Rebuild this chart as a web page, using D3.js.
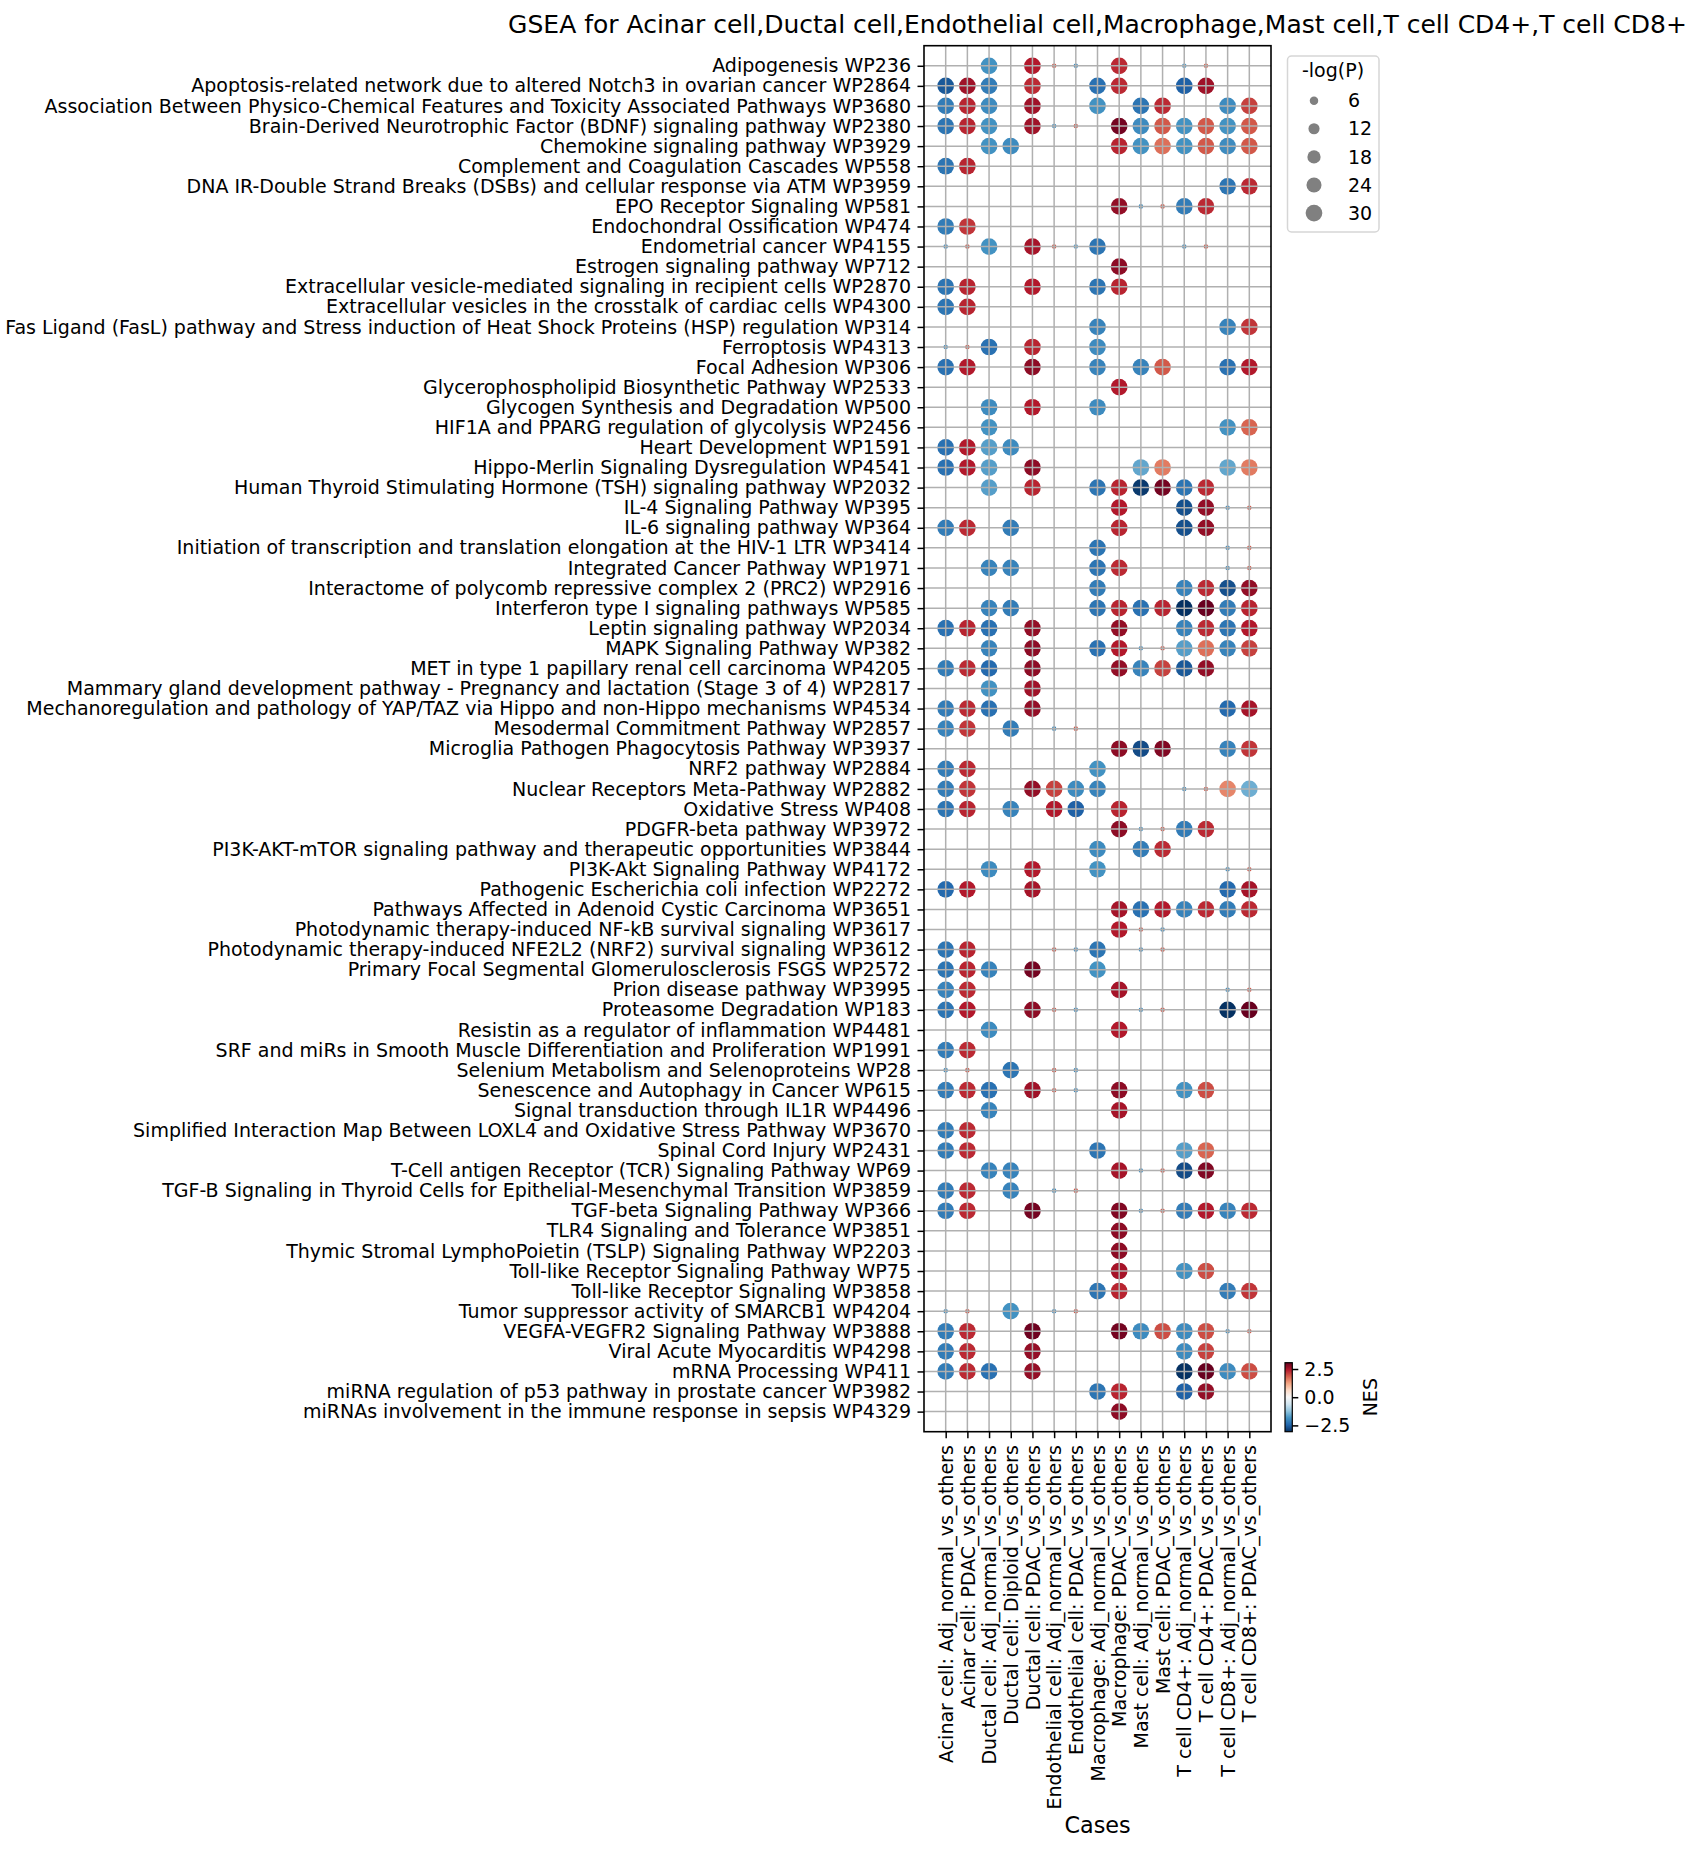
<!DOCTYPE html>
<html>
<head>
<meta charset="utf-8">
<script src="https://cdn.jsdelivr.net/npm/d3@7"></script>
<style>
  body { margin: 0; background: #fff; }
  text { font-family: "DejaVu Sans", sans-serif; fill: #000; }
</style>
</head>
<body>
<script>
var _ = null;

var cases = [
    "Acinar cell: Adj_normal_vs_others", "Acinar cell: PDAC_vs_others",
    "Ductal cell: Adj_normal_vs_others", "Ductal cell: Diploid_vs_others",
    "Ductal cell: PDAC_vs_others", "Endothelial cell: Adj_normal_vs_others",
    "Endothelial cell: PDAC_vs_others", "Macrophage: Adj_normal_vs_others",
    "Macrophage: PDAC_vs_others", "Mast cell: Adj_normal_vs_others",
    "Mast cell: PDAC_vs_others", "T cell CD4+: Adj_normal_vs_others",
    "T cell CD4+: PDAC_vs_others", "T cell CD8+: Adj_normal_vs_others",
    "T cell CD8+: PDAC_vs_others"
];

var pathways = [
    "Adipogenesis WP236",
    "Apoptosis-related network due to altered Notch3 in ovarian cancer WP2864",
    "Association Between Physico-Chemical Features and Toxicity Associated Pathways WP3680",
    "Brain-Derived Neurotrophic Factor (BDNF) signaling pathway WP2380",
    "Chemokine signaling pathway WP3929",
    "Complement and Coagulation Cascades WP558",
    "DNA IR-Double Strand Breaks (DSBs) and cellular response via ATM WP3959",
    "EPO Receptor Signaling WP581",
    "Endochondral Ossification WP474",
    "Endometrial cancer WP4155",
    "Estrogen signaling pathway WP712",
    "Extracellular vesicle-mediated signaling in recipient cells WP2870",
    "Extracellular vesicles in the crosstalk of cardiac cells WP4300",
    "Fas Ligand (FasL) pathway and Stress induction of Heat Shock Proteins (HSP) regulation WP314",
    "Ferroptosis WP4313",
    "Focal Adhesion WP306",
    "Glycerophospholipid Biosynthetic Pathway WP2533",
    "Glycogen Synthesis and Degradation WP500",
    "HIF1A and PPARG regulation of glycolysis WP2456",
    "Heart Development WP1591",
    "Hippo-Merlin Signaling Dysregulation WP4541",
    "Human Thyroid Stimulating Hormone (TSH) signaling pathway WP2032",
    "IL-4 Signaling Pathway WP395",
    "IL-6 signaling pathway WP364",
    "Initiation of transcription and translation elongation at the HIV-1 LTR WP3414",
    "Integrated Cancer Pathway WP1971",
    "Interactome of polycomb repressive complex 2 (PRC2)  WP2916",
    "Interferon type I signaling pathways WP585",
    "Leptin signaling pathway WP2034",
    "MAPK Signaling Pathway WP382",
    "MET in type 1 papillary renal cell carcinoma WP4205",
    "Mammary gland development pathway - Pregnancy and lactation (Stage 3 of 4) WP2817",
    "Mechanoregulation and pathology of YAP/TAZ via Hippo and non-Hippo mechanisms WP4534",
    "Mesodermal Commitment Pathway WP2857",
    "Microglia Pathogen Phagocytosis Pathway WP3937",
    "NRF2 pathway WP2884",
    "Nuclear Receptors Meta-Pathway WP2882",
    "Oxidative Stress WP408",
    "PDGFR-beta pathway WP3972",
    "PI3K-AKT-mTOR signaling pathway and therapeutic opportunities WP3844",
    "PI3K-Akt Signaling Pathway WP4172",
    "Pathogenic Escherichia coli infection WP2272",
    "Pathways Affected in Adenoid Cystic Carcinoma WP3651",
    "Photodynamic therapy-induced NF-kB survival signaling WP3617",
    "Photodynamic therapy-induced NFE2L2 (NRF2) survival signaling WP3612",
    "Primary Focal Segmental Glomerulosclerosis FSGS WP2572",
    "Prion disease pathway WP3995",
    "Proteasome Degradation WP183",
    "Resistin as a regulator of inflammation WP4481",
    "SRF and miRs in Smooth Muscle Differentiation and Proliferation WP1991",
    "Selenium Metabolism and Selenoproteins WP28",
    "Senescence and Autophagy in Cancer WP615",
    "Signal transduction through IL1R WP4496",
    "Simplified Interaction Map Between LOXL4 and Oxidative Stress Pathway WP3670",
    "Spinal Cord Injury WP2431",
    "T-Cell antigen Receptor (TCR)  Signaling Pathway WP69",
    "TGF-B Signaling in Thyroid Cells for Epithelial-Mesenchymal Transition WP3859",
    "TGF-beta Signaling Pathway WP366",
    "TLR4 Signaling and Tolerance WP3851",
    "Thymic Stromal LymphoPoietin (TSLP) Signaling Pathway WP2203",
    "Toll-like Receptor Signaling Pathway WP75",
    "Toll-like Receptor Signaling WP3858",
    "Tumor suppressor activity of SMARCB1 WP4204",
    "VEGFA-VEGFR2 Signaling Pathway WP3888",
    "Viral Acute Myocarditis WP4298",
    "mRNA Processing WP411",
    "miRNA regulation of p53 pathway in prostate cancer WP3982",
    "miRNAs involvement in the immune response in sepsis WP4329"
];

// NES, one row per pathway, one column per case
var nes = [
    [_, _, -1.85, _, 2.45, 1.9, -1.9, _, 2.3, _, _, -1.7, 1.8, _, _],
    [-2.6, 2.6, -2.15, _, 2.3, _, _, -2.3, 2.3, _, _, -2.5, 2.6, _, _],
    [-2.15, 2.35, -1.95, _, 2.6, _, _, -1.85, _, -2.25, 2.3, _, _, -1.95, 2.1],
    [-2.25, 2.35, -1.85, _, 2.6, -1.9, 1.9, _, 2.95, -1.95, 1.9, -1.85, 1.9, -1.85, 1.9],
    [_, _, -1.85, -1.95, _, _, _, _, 2.35, -1.85, 1.7, -1.85, 1.9, -1.95, 1.9],
    [-2.25, 2.35, _, _, _, _, _, _, _, _, _, _, _, _, _],
    [_, _, _, _, _, _, _, _, _, _, _, _, _, -2.25, 2.3],
    [_, _, _, _, _, _, _, _, 2.7, -1.9, 1.9, -2.15, 2.3, _, _],
    [-2.15, 2.2, _, _, _, _, _, _, _, _, _, _, _, _, _],
    [-1.9, 1.9, -1.85, _, 2.55, 1.9, -1.7, -2.25, _, _, _, -1.9, 1.9, _, _],
    [_, _, _, _, _, _, _, _, 2.75, _, _, _, _, _, _],
    [-2.25, 2.35, _, _, 2.45, _, _, -2.25, 2.35, _, _, _, _, _, _],
    [-2.25, 2.35, _, _, _, _, _, _, _, _, _, _, _, _, _],
    [_, _, _, _, _, _, _, -2.05, _, _, _, _, _, -2.05, 2.2],
    [-1.9, 1.9, -2.3, _, 2.35, _, _, -1.95, _, _, _, _, _, _, _],
    [-2.3, 2.45, _, _, 2.75, _, _, -2.05, _, -2.05, 1.9, _, _, -2.3, 2.45],
    [_, _, _, _, _, _, _, _, 2.45, _, _, _, _, _, _],
    [_, _, -1.95, _, 2.45, _, _, -1.95, _, _, _, _, _, _, _],
    [_, _, -1.85, _, _, _, _, _, _, _, _, _, _, -1.85, 1.8],
    [-2.3, 2.45, -1.7, -1.95, _, _, _, _, _, _, _, _, _, _, _],
    [-2.3, 2.45, -1.7, _, 2.75, _, _, _, _, -1.6, 1.6, _, _, -1.6, 1.6],
    [_, _, -1.7, _, 2.35, _, _, -2.25, 2.35, -2.95, 2.95, -2.25, 2.3, _, _],
    [_, _, _, _, _, _, _, _, 2.45, _, _, -2.7, 2.7, -1.9, 1.9],
    [-2.15, 2.3, _, -2.15, _, _, _, _, 2.35, _, _, -2.7, 2.7, _, _],
    [_, _, _, _, _, _, _, -2.25, _, _, _, _, _, -1.9, 1.9],
    [_, _, -2.05, -2.05, _, _, _, -2.25, 2.3, _, _, _, _, -1.9, 1.9],
    [_, _, _, _, _, _, _, -2.15, _, _, _, -2.05, 2.3, -2.7, 2.7],
    [_, _, -2.05, -2.15, _, _, _, -2.25, 2.35, -2.3, 2.35, -3.05, 3.05, -2.15, 2.35],
    [-2.3, 2.35, -2.3, _, 2.7, _, _, _, 2.7, _, _, -2.05, 2.3, -2.25, 2.45],
    [_, _, -2.05, _, 2.75, _, _, -2.3, 2.45, -1.9, 1.9, -1.7, 1.7, -2.05, 2.1],
    [-2.15, 2.3, -2.4, _, 2.75, _, _, _, 2.7, -2.05, 2.1, -2.6, 2.7, _, _],
    [_, _, -1.85, _, 2.6, _, _, _, _, _, _, _, _, _, _],
    [-2.15, 2.3, -2.3, _, 2.7, _, _, _, _, _, _, _, _, -2.4, 2.55],
    [-2.05, 2.2, _, -2.15, _, -1.9, 1.9, _, _, _, _, _, _, _, _],
    [_, _, _, _, _, _, _, _, 2.75, -2.75, 2.85, _, _, -2.05, 2.2],
    [-2.15, 2.3, _, _, _, _, _, -1.85, _, _, _, _, _, _, _],
    [-2.15, 2.2, _, _, 2.7, 2.1, -1.95, -2.05, _, _, _, -1.9, 1.9, 1.5, -1.5],
    [-2.25, 2.35, _, -2.05, _, 2.45, -2.5, _, 2.35, _, _, _, _, _, _],
    [_, _, _, _, _, _, _, _, 2.75, -1.9, 1.9, -2.15, 2.3, _, _],
    [_, _, _, _, _, _, _, -1.95, _, -2.15, 2.3, _, _, _, _],
    [_, _, -1.95, _, 2.45, _, _, -1.85, _, _, _, _, _, -1.9, 1.9],
    [-2.4, 2.45, _, _, 2.55, _, _, _, _, _, _, _, _, -2.4, 2.55],
    [_, _, _, _, _, _, _, _, 2.55, -2.3, 2.45, -2.05, 2.3, -2.15, 2.3],
    [_, _, _, _, _, _, _, _, 2.45, 1.9, -1.9, _, _, _, _],
    [-2.25, 2.35, _, _, _, 1.9, -1.9, -2.25, _, -1.9, 1.9, _, _, _, _],
    [-2.25, 2.35, -2.05, _, 2.95, _, _, -1.85, _, _, _, _, _, _, _],
    [-2.05, 2.3, _, _, _, _, _, _, 2.55, _, _, _, _, -1.9, 1.9],
    [-2.25, 2.45, _, _, 2.75, 1.9, -1.9, _, _, -1.9, 1.9, _, _, -3.05, 3.05],
    [_, _, -1.95, _, _, _, _, _, 2.45, _, _, _, _, _, _],
    [-2.15, 2.3, _, _, _, _, _, _, _, _, _, _, _, _, _],
    [-1.9, 1.9, _, -2.25, _, 1.9, -1.9, _, _, _, _, _, _, _, _],
    [-2.15, 2.3, -2.3, _, 2.6, 1.9, -1.9, _, 2.75, _, _, -1.85, 2.0, _, _],
    [_, _, -2.05, _, _, _, _, _, 2.55, _, _, _, _, _, _],
    [-2.15, 2.3, _, _, _, _, _, _, _, _, _, _, _, _, _],
    [-2.15, 2.3, _, _, _, _, _, -2.25, _, _, _, -1.7, 1.8, _, _],
    [_, _, -2.05, -2.05, _, _, _, _, 2.55, -1.9, 1.9, -2.75, 2.85, _, _],
    [-2.15, 2.3, _, -2.05, _, -1.9, 1.9, _, _, _, _, _, _, _, _],
    [-2.15, 2.3, _, _, 2.95, _, _, _, 2.85, -1.9, 1.9, -2.15, 2.45, -2.05, 2.3],
    [_, _, _, _, _, _, _, _, 2.75, _, _, _, _, _, _],
    [_, _, _, _, _, _, _, _, 2.75, _, _, _, _, _, _],
    [_, _, _, _, _, _, _, _, 2.55, _, _, -1.85, 2.0, _, _],
    [_, _, _, _, _, _, _, -2.25, 2.35, _, _, _, _, -2.15, 2.2],
    [-1.9, 1.9, _, -1.85, _, -1.9, 1.9, _, _, _, _, _, _, _, _],
    [-2.15, 2.3, _, _, 3.0, _, _, _, 2.95, -1.95, 2.0, -1.95, 2.0, -1.9, 1.9],
    [-2.15, 2.3, _, _, 2.7, _, _, _, _, _, _, -1.95, 2.1, _, _],
    [-2.15, 2.3, -2.3, _, 2.7, _, _, _, _, _, _, -3.05, 3.05, -1.95, 2.0],
    [_, _, _, _, _, _, _, -2.25, 2.35, _, _, -2.5, 2.7, _, _],
    [_, _, _, _, _, _, _, _, 2.75, _, _, _, _, _, _]
];

// -log(P), same layout
var logP = [
    [_, _, 30, _, 30, 0.1, 0.1, _, 30, _, _, 0.1, 0.1, _, _],
    [30, 30, 30, _, 30, _, _, 30, 30, _, _, 30, 30, _, _],
    [30, 30, 30, _, 30, _, _, 30, _, 30, 30, _, _, 30, 30],
    [30, 30, 30, _, 30, 0.1, 0.1, _, 30, 30, 30, 30, 30, 30, 30],
    [_, _, 30, 30, _, _, _, _, 30, 30, 30, 30, 30, 30, 30],
    [30, 30, _, _, _, _, _, _, _, _, _, _, _, _, _],
    [_, _, _, _, _, _, _, _, _, _, _, _, _, 30, 30],
    [_, _, _, _, _, _, _, _, 30, 0.1, 0.1, 30, 30, _, _],
    [30, 30, _, _, _, _, _, _, _, _, _, _, _, _, _],
    [0.1, 0.1, 30, _, 30, 0.1, 0.1, 30, _, _, _, 0.1, 0.1, _, _],
    [_, _, _, _, _, _, _, _, 30, _, _, _, _, _, _],
    [30, 30, _, _, 30, _, _, 30, 30, _, _, _, _, _, _],
    [30, 30, _, _, _, _, _, _, _, _, _, _, _, _, _],
    [_, _, _, _, _, _, _, 30, _, _, _, _, _, 30, 30],
    [0.1, 0.1, 30, _, 30, _, _, 30, _, _, _, _, _, _, _],
    [30, 30, _, _, 30, _, _, 30, _, 30, 30, _, _, 30, 30],
    [_, _, _, _, _, _, _, _, 30, _, _, _, _, _, _],
    [_, _, 30, _, 30, _, _, 30, _, _, _, _, _, _, _],
    [_, _, 30, _, _, _, _, _, _, _, _, _, _, 30, 30],
    [30, 30, 30, 30, _, _, _, _, _, _, _, _, _, _, _],
    [30, 30, 30, _, 30, _, _, _, _, 30, 30, _, _, 30, 30],
    [_, _, 30, _, 30, _, _, 30, 30, 30, 30, 30, 30, _, _],
    [_, _, _, _, _, _, _, _, 30, _, _, 30, 30, 0.1, 0.1],
    [30, 30, _, 30, _, _, _, _, 30, _, _, 30, 30, _, _],
    [_, _, _, _, _, _, _, 30, _, _, _, _, _, 0.1, 0.1],
    [_, _, 30, 30, _, _, _, 30, 30, _, _, _, _, 0.1, 0.1],
    [_, _, _, _, _, _, _, 30, _, _, _, 30, 30, 30, 30],
    [_, _, 30, 30, _, _, _, 30, 30, 30, 30, 30, 30, 30, 30],
    [30, 30, 30, _, 30, _, _, _, 30, _, _, 30, 30, 30, 30],
    [_, _, 30, _, 30, _, _, 30, 30, 0.1, 0.1, 30, 30, 30, 30],
    [30, 30, 30, _, 30, _, _, _, 30, 30, 30, 30, 30, _, _],
    [_, _, 30, _, 30, _, _, _, _, _, _, _, _, _, _],
    [30, 30, 30, _, 30, _, _, _, _, _, _, _, _, 30, 30],
    [30, 30, _, 30, _, 0.1, 0.1, _, _, _, _, _, _, _, _],
    [_, _, _, _, _, _, _, _, 30, 30, 30, _, _, 30, 30],
    [30, 30, _, _, _, _, _, 30, _, _, _, _, _, _, _],
    [30, 30, _, _, 30, 30, 30, 30, _, _, _, 0.1, 0.1, 30, 30],
    [30, 30, _, 30, _, 30, 30, _, 30, _, _, _, _, _, _],
    [_, _, _, _, _, _, _, _, 30, 0.1, 0.1, 30, 30, _, _],
    [_, _, _, _, _, _, _, 30, _, 30, 30, _, _, _, _],
    [_, _, 30, _, 30, _, _, 30, _, _, _, _, _, 0.1, 0.1],
    [30, 30, _, _, 30, _, _, _, _, _, _, _, _, 30, 30],
    [_, _, _, _, _, _, _, _, 30, 30, 30, 30, 30, 30, 30],
    [_, _, _, _, _, _, _, _, 30, 0.1, 0.1, _, _, _, _],
    [30, 30, _, _, _, 0.1, 0.1, 30, _, 0.1, 0.1, _, _, _, _],
    [30, 30, 30, _, 30, _, _, 30, _, _, _, _, _, _, _],
    [30, 30, _, _, _, _, _, _, 30, _, _, _, _, 0.1, 0.1],
    [30, 30, _, _, 30, 0.1, 0.1, _, _, 0.1, 0.1, _, _, 30, 30],
    [_, _, 30, _, _, _, _, _, 30, _, _, _, _, _, _],
    [30, 30, _, _, _, _, _, _, _, _, _, _, _, _, _],
    [0.1, 0.1, _, 30, _, 0.1, 0.1, _, _, _, _, _, _, _, _],
    [30, 30, 30, _, 30, 0.1, 0.1, _, 30, _, _, 30, 30, _, _],
    [_, _, 30, _, _, _, _, _, 30, _, _, _, _, _, _],
    [30, 30, _, _, _, _, _, _, _, _, _, _, _, _, _],
    [30, 30, _, _, _, _, _, 30, _, _, _, 30, 30, _, _],
    [_, _, 30, 30, _, _, _, _, 30, 0.1, 0.1, 30, 30, _, _],
    [30, 30, _, 30, _, 0.1, 0.1, _, _, _, _, _, _, _, _],
    [30, 30, _, _, 30, _, _, _, 30, 0.1, 0.1, 30, 30, 30, 30],
    [_, _, _, _, _, _, _, _, 30, _, _, _, _, _, _],
    [_, _, _, _, _, _, _, _, 30, _, _, _, _, _, _],
    [_, _, _, _, _, _, _, _, 30, _, _, 30, 30, _, _],
    [_, _, _, _, _, _, _, 30, 30, _, _, _, _, 30, 30],
    [0.1, 0.1, _, 30, _, 0.1, 0.1, _, _, _, _, _, _, _, _],
    [30, 30, _, _, 30, _, _, _, 30, 30, 30, 30, 30, 0.1, 0.1],
    [30, 30, _, _, 30, _, _, _, _, _, _, 30, 30, _, _],
    [30, 30, 30, _, 30, _, _, _, _, _, _, 30, 30, 30, 30],
    [_, _, _, _, _, _, _, 30, 30, _, _, 30, 30, _, _],
    [_, _, _, _, _, _, _, _, 30, _, _, _, _, _, _]
];

var sizeLegend = [6, 12, 18, 24, 30];
var nesTicks = [2.5, 0.0, -2.5];
var nesLimit = 3.06;

// matplotlib RdBu, reversed
var rdbu = ["#67001f", "#b2182b", "#d6604d", "#f4a582", "#fddbc7", "#f7f7f7",
            "#d1e5f0", "#92c5de", "#4393c3", "#2166ac", "#053061"].reverse();

var width = 1703, height = 1853;
var plot = { left: 924, right: 1271, top: 45.7, bottom: 1431.7 };
var tickFont = "19px";

var x = d3.scaleLinear().domain([-1, cases.length]).range([plot.left, plot.right]);
var y = d3.scaleLinear().domain([-1, pathways.length]).range([plot.top, plot.bottom]);
// marker area grows linearly with -log(P)
var area = d3.scaleLinear().domain([0, 30]).range([5, 69.7]);
var r = function (v) { return Math.sqrt(area(v)); };
var color = d3.scaleLinear()
    .domain(d3.range(rdbu.length).map(function (i) { return -nesLimit + 2 * nesLimit * i / (rdbu.length - 1); }))
    .range(rdbu)
    .interpolate(d3.interpolateRgb)
    .clamp(true);

var points = [];
nes.forEach(function (row, i) {
    row.forEach(function (v, j) {
        if (v !== null) points.push({ row: i, col: j, nes: v, logp: logP[i][j] });
    });
});

var svg = d3.select("body").append("svg")
    .attr("width", width)
    .attr("height", height);

// dots
svg.append("g")
    .selectAll("circle")
    .data(points)
    .enter().append("circle")
    .attr("cx", function (d) { return x(d.col); })
    .attr("cy", function (d) { return y(d.row); })
    .attr("r", function (d) { return r(d.logp); })
    .style("fill", function (d) { return color(d.nes); });

// grid drawn on top of the dots
var grid = svg.append("g")
    .attr("stroke", "#b0b0b0")
    .attr("stroke-width", 1.5);
grid.selectAll(".vgrid")
    .data(cases)
    .enter().append("line")
    .attr("x1", function (d, i) { return x(i); })
    .attr("x2", function (d, i) { return x(i); })
    .attr("y1", plot.top)
    .attr("y2", plot.bottom);
grid.selectAll(".hgrid")
    .data(pathways)
    .enter().append("line")
    .attr("y1", function (d, i) { return y(i); })
    .attr("y2", function (d, i) { return y(i); })
    .attr("x1", plot.left)
    .attr("x2", plot.right);

// axes
var xAxis = d3.axisBottom(x)
    .tickValues(d3.range(cases.length))
    .tickFormat(function (i) { return cases[i]; })
    .tickSize(6.5)
    .tickPadding(6.5);
var yAxis = d3.axisLeft(y)
    .tickValues(d3.range(pathways.length))
    .tickFormat(function (i) { return pathways[i]; })
    .tickSize(6.5)
    .tickPadding(6.5);

var gx = svg.append("g")
    .attr("transform", "translate(0," + plot.bottom + ")")
    .call(xAxis);
gx.selectAll("text")
    .attr("transform", "rotate(-90)")
    .attr("x", -13.5)
    .attr("y", 0)
    .attr("dy", "0.35em")
    .style("text-anchor", "end");

var gy = svg.append("g")
    .attr("transform", "translate(" + plot.left + ",0)")
    .call(yAxis);

[gx, gy].forEach(function (g) {
    g.select(".domain").remove();
    g.selectAll("line").attr("stroke", "#000").attr("stroke-width", 1.5);
    g.selectAll("text").style("font-family", "DejaVu Sans").style("font-size", tickFont).attr("fill", "#000");
});

svg.append("rect")
    .attr("x", plot.left)
    .attr("y", plot.top)
    .attr("width", plot.right - plot.left)
    .attr("height", plot.bottom - plot.top)
    .attr("fill", "none")
    .attr("stroke", "#000")
    .attr("stroke-width", 1.6);

// title and x label
svg.append("text")
    .attr("x", (plot.left + plot.right) / 2)
    .attr("y", 33)
    .style("text-anchor", "middle")
    .style("font-size", "25px")
    .text("GSEA for Acinar cell,Ductal cell,Endothelial cell,Macrophage,Mast cell,T cell CD4+,T cell CD8+");

svg.append("text")
    .attr("x", (plot.left + plot.right) / 2)
    .attr("y", 1833)
    .style("text-anchor", "middle")
    .style("font-size", "22.3px")
    .text("Cases");

// size legend
var legend = svg.append("g");
legend.append("rect")
    .attr("x", 1287.5)
    .attr("y", 56)
    .attr("width", 91.5)
    .attr("height", 176)
    .attr("rx", 4)
    .attr("fill", "#fff")
    .attr("stroke", "#d6d6d6")
    .attr("stroke-width", 1.5);
legend.append("text")
    .attr("x", 1333)
    .attr("y", 77)
    .style("text-anchor", "middle")
    .style("font-size", tickFont)
    .text("-log(P)");
var items = legend.selectAll(".item")
    .data(sizeLegend)
    .enter().append("g")
    .attr("transform", function (d, i) { return "translate(0," + (100.7 + i * 28.1) + ")"; });
items.append("circle")
    .attr("cx", 1314)
    .attr("cy", 0)
    .attr("r", function (d) { return r(d); })
    .attr("fill", "#808080");
items.append("text")
    .attr("x", 1348)
    .attr("dy", "0.35em")
    .style("font-size", tickFont)
    .text(function (d) { return d; });

// colorbar
var cb = { x: 1285, w: 7.3, top: 1362.7, bottom: 1431.7 };
var grad = svg.append("defs").append("linearGradient")
    .attr("id", "nesgrad")
    .attr("x1", 0).attr("y1", 1).attr("x2", 0).attr("y2", 0);
rdbu.forEach(function (c, i) {
    grad.append("stop")
        .attr("offset", i / (rdbu.length - 1))
        .attr("stop-color", c);
});
svg.append("rect")
    .attr("x", cb.x)
    .attr("y", cb.top)
    .attr("width", cb.w)
    .attr("height", cb.bottom - cb.top)
    .attr("fill", "url(#nesgrad)")
    .attr("stroke", "#000")
    .attr("stroke-width", 1.2);

var cy = d3.scaleLinear().domain([-nesLimit, nesLimit]).range([cb.bottom, cb.top]);
var cAxis = d3.axisRight(cy)
    .tickValues(nesTicks)
    .tickFormat(d3.format(".1f"))
    .tickSize(6)
    .tickPadding(6);
var gc = svg.append("g")
    .attr("transform", "translate(" + (cb.x + cb.w) + ",0)")
    .call(cAxis);
gc.select(".domain").remove();
gc.selectAll("line").attr("stroke", "#000").attr("stroke-width", 1.5);
gc.selectAll("text").style("font-family", "DejaVu Sans").style("font-size", tickFont).attr("fill", "#000");

svg.append("text")
    .attr("transform", "translate(1377," + ((cb.top + cb.bottom) / 2) + ") rotate(-90)")
    .style("text-anchor", "middle")
    .style("font-size", tickFont)
    .text("NES");
</script>
</body>
</html>
